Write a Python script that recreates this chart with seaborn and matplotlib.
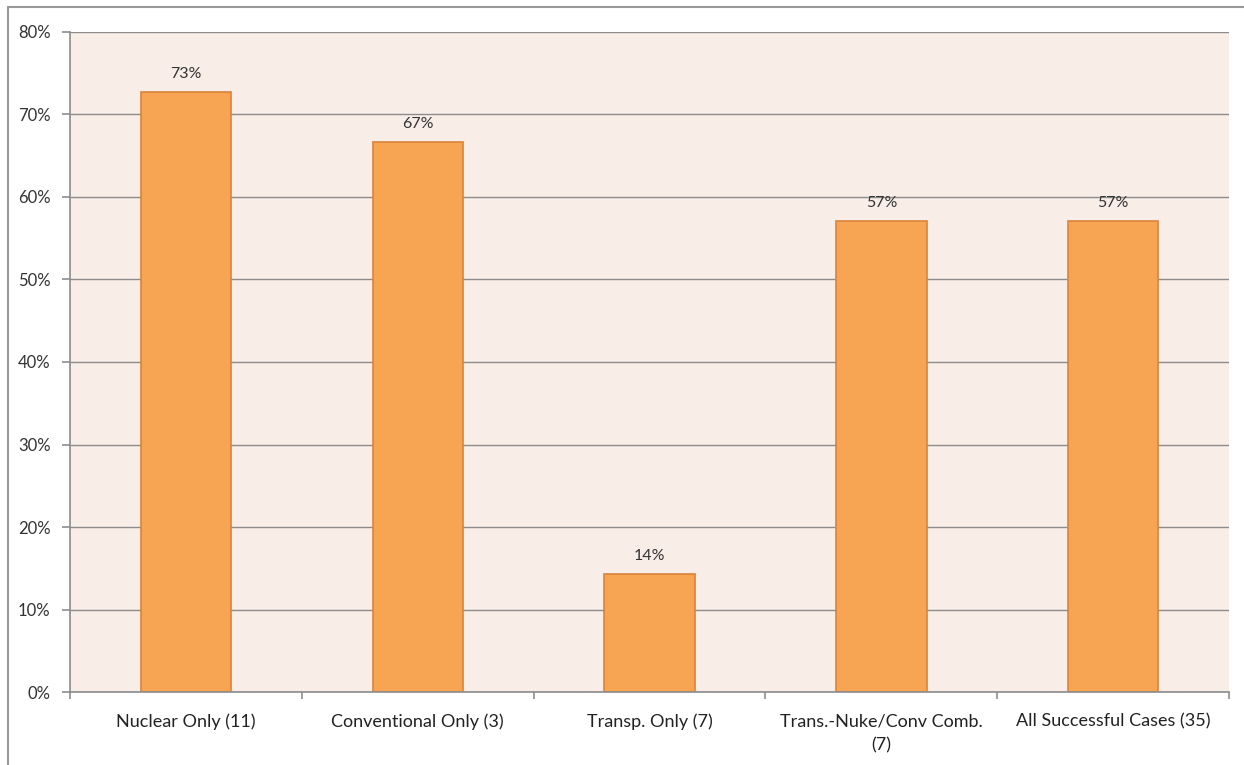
import pandas as pd
import numpy as np
import matplotlib.pyplot as plt
import seaborn as sns
from matplotlib.lines import Line2D
from matplotlib.ticker import PercentFormatter

categories = ['Nuclear Only (11)', 'Conventional Only (3)', 'Transp. Only (7)',
              'Trans.-Nuke/Conv Comb.\n(7)', 'All Successful Cases (35)']
values = [72.7, 66.7, 14.3, 57.1, 57.1]
bar_labels = ['73%', '67%', '14%', '57%', '57%']

df = pd.DataFrame({'case': categories, 'pct': values})

sns.set_style('white')
plt.rcParams['font.family'] = ['Lato', 'DejaVu Sans']

fig = plt.figure(figsize=(12.44, 7.65), dpi=100)
ax = fig.add_axes([0.0563, 0.0954, 0.9317, 0.8628])
ax.set_facecolor('#f9ede8')

sns.barplot(data=df, x='case', y='pct', color='#f7a552', edgecolor='#d9843a',
            linewidth=1.2, width=0.39, saturation=1, ax=ax)

ax.set_ylim(0, 80)
ax.set_xlim(-0.5, 4.5)
ax.set_yticks(np.arange(0, 81, 10))
ax.yaxis.set_major_formatter(PercentFormatter(decimals=0))
ax.yaxis.grid(True, color='#8c8c8c', linewidth=1)
ax.set_axisbelow(True)

ax.set_xticks(np.arange(-0.5, 4.6, 1), minor=True)
ax.tick_params(axis='x', which='major', bottom=False, pad=12, labelsize=13, labelcolor='#222222')
ax.tick_params(axis='x', which='minor', bottom=True, length=5, color='#8c8c8c', width=1.2)
ax.tick_params(axis='y', left=True, length=6, color='#8c8c8c', width=1.2,
               labelsize=12, labelcolor='#333333', pad=8)
for lbl in ax.get_xticklabels():
    lbl.set_linespacing(1.6)

for s in ['top', 'right']:
    ax.spines[s].set_visible(False)
for s in ['left', 'bottom']:
    ax.spines[s].set_color('#8c8c8c')
    ax.spines[s].set_linewidth(1.2)

ax.bar_label(ax.containers[0], labels=bar_labels, padding=8, fontsize=11.5, color='#333333')
ax.set_xlabel('')
ax.set_ylabel('')

# outer chart frame
fig.add_artist(Line2D([8 / 1244, 1], [1 - 7 / 765, 1 - 7 / 765], color='#999999', linewidth=1.5))
fig.add_artist(Line2D([8 / 1244, 8 / 1244], [0, 1 - 7 / 765], color='#999999', linewidth=1.5))

fig.savefig('out.png', dpi=100)
